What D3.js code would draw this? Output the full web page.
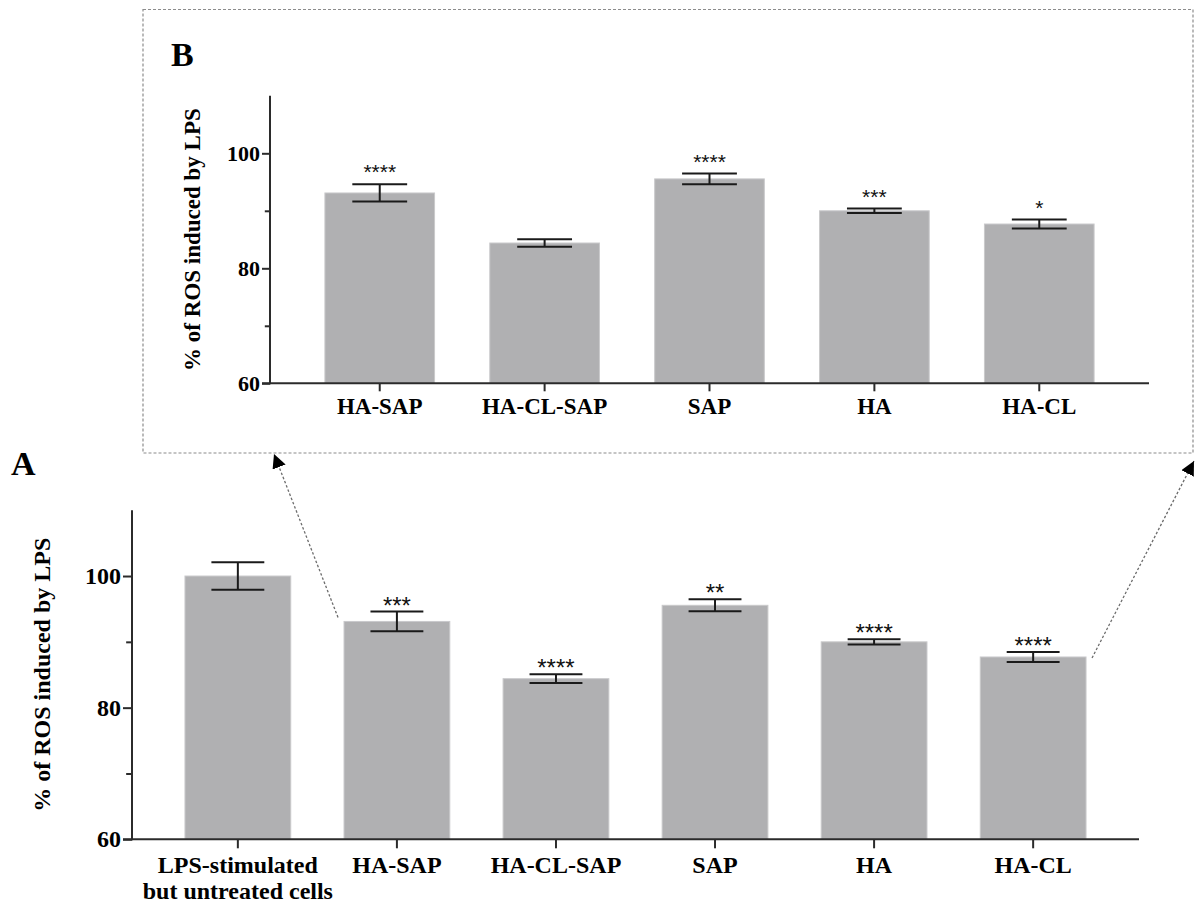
<!DOCTYPE html>
<html>
<head>
<meta charset="utf-8">
<script src="https://cdn.jsdelivr.net/npm/d3@7"></script>
<style>
  html, body { margin: 0; padding: 0; background: #fff; }
  svg { display: block; }
</style>
</head>
<body>
<svg id="fig" width="1196" height="903"></svg>
<script>
// ROS levels relative to LPS-stimulated cells (mean ± SEM)
const categoriesA = ["LPS-stimulated\nbut untreated cells", "HA-SAP", "HA-CL-SAP", "SAP", "HA", "HA-CL"];
const meansA  = [100, 93.1, 84.4, 95.55, 90.0, 87.7];
const errorsA = [2.1, 1.5, 0.67, 0.92, 0.4, 0.77];
const starsA  = ["", "***", "****", "**", "****", "****"];

const categoriesB = ["HA-SAP", "HA-CL-SAP", "SAP", "HA", "HA-CL"];
const meansB  = [93.1, 84.4, 95.55, 90.0, 87.7];
const errorsB = [1.5, 0.67, 0.92, 0.4, 0.77];
const starsB  = ["****", "", "****", "***", "*"];

const yDomain    = [60, 110];
const yMajorTicks = [60, 80, 100];
const yMinorTicks = [70, 90];
const yTitle = "% of ROS induced by LPS";

const svg = d3.select("#fig");
const serif = "'Liberation Serif', 'Times New Roman', serif";
const sans  = "'Liberation Sans', Arial, sans-serif";
const barFill = "#b0b0b2";
const axisColor = "#2b2b2b";

function drawPanel(opt) {
  const g = svg.append("g");
  const data = opt.cats.map((c, i) => ({ cat: c, mean: opt.means[i], err: opt.errs[i], star: opt.stars[i] }));

  const x = d3.scaleBand().domain(opt.cats).range([opt.x0, opt.x1])
    .paddingInner(0.335).paddingOuter(0.333);
  const y = d3.scaleLinear().domain(yDomain).range([opt.y0, opt.y1]);

  // bars
  g.selectAll("rect.bar").data(data).join("rect")
    .attr("class", "bar")
    .attr("x", d => x(d.cat))
    .attr("y", d => y(d.mean))
    .attr("width", x.bandwidth())
    .attr("height", d => y(yDomain[0]) - y(d.mean))
    .attr("fill", barFill)
    .attr("stroke", "#c9c9cb")
    .attr("stroke-width", 1);

  // error bars
  const capHalf = x.bandwidth() * 0.25;
  const eb = g.selectAll("g.err").data(data).join("g").attr("class", "err")
    .attr("stroke", "#1a1a1a").attr("stroke-width", 2);
  eb.append("line")
    .attr("x1", d => x(d.cat) + x.bandwidth() / 2).attr("x2", d => x(d.cat) + x.bandwidth() / 2)
    .attr("y1", d => y(d.mean + d.err)).attr("y2", d => y(d.mean - d.err));
  eb.append("line")
    .attr("x1", d => x(d.cat) + x.bandwidth() / 2 - capHalf).attr("x2", d => x(d.cat) + x.bandwidth() / 2 + capHalf)
    .attr("y1", d => y(d.mean + d.err)).attr("y2", d => y(d.mean + d.err));
  eb.append("line")
    .attr("x1", d => x(d.cat) + x.bandwidth() / 2 - capHalf).attr("x2", d => x(d.cat) + x.bandwidth() / 2 + capHalf)
    .attr("y1", d => y(d.mean - d.err)).attr("y2", d => y(d.mean - d.err));

  // significance marks
  g.selectAll("text.star").data(data).join("text")
    .attr("class", "star")
    .attr("x", d => x(d.cat) + x.bandwidth() / 2)
    .attr("y", d => y(d.mean + d.err) + opt.starShift)
    .attr("text-anchor", "middle")
    .attr("font-family", sans)
    .attr("font-size", opt.starSize)
    .attr("fill", "#111")
    .text(d => d.star);

  // y axis
  const yAxis = d3.axisLeft(y).tickValues(yMajorTicks).tickSize(opt.tick).tickPadding(2).tickFormat(d3.format("d"));
  const ya = g.append("g").attr("transform", `translate(${opt.x0},0)`).call(yAxis);
  ya.select(".domain").attr("stroke", axisColor).attr("stroke-width", 2)
    .attr("d", `M${-opt.tick},${opt.y0}H0V${opt.y1}`);
  ya.selectAll(".tick line").attr("stroke", axisColor).attr("stroke-width", 2);
  ya.selectAll(".tick text").attr("font-family", serif).attr("font-weight", "bold")
    .attr("font-size", opt.tickFont).attr("fill", "#000");
  const yMinor = d3.axisLeft(y).tickValues(yMinorTicks).tickSize(opt.tick * 0.65).tickFormat("");
  const ym = g.append("g").attr("transform", `translate(${opt.x0},0)`).call(yMinor);
  ym.select(".domain").remove();
  ym.selectAll(".tick line").attr("stroke", axisColor).attr("stroke-width", 2);

  // x axis
  const xAxis = d3.axisBottom(x).tickSize(opt.tick).tickFormat("");
  const xa = g.append("g").attr("transform", `translate(0,${opt.y0})`).call(xAxis);
  xa.select(".domain").attr("stroke", axisColor).attr("stroke-width", 2)
    .attr("d", `M${opt.x0},0H${opt.x1}`);
  xa.selectAll(".tick line").attr("stroke", axisColor).attr("stroke-width", 2);

  // category labels (may span two lines)
  const lab = g.selectAll("text.cat").data(data).join("text")
    .attr("class", "cat")
    .attr("text-anchor", "middle")
    .attr("font-family", serif).attr("font-weight", "bold")
    .attr("font-size", opt.labFont).attr("fill", "#000");
  lab.each(function (d) {
    const t = d3.select(this);
    d.cat.split("\n").forEach((line, k) => {
      t.append("tspan")
        .attr("x", x(d.cat) + x.bandwidth() / 2)
        .attr("y", opt.y0 + opt.labOffset + k * opt.labFont * 1.08)
        .text(line);
    });
  });

  // y title
  g.append("text")
    .attr("transform", `translate(${opt.titleX},${(opt.y0 + opt.y1) / 2}) rotate(-90)`)
    .attr("text-anchor", "middle")
    .attr("font-family", serif).attr("font-weight", "bold")
    .attr("font-size", opt.titleFont).attr("fill", "#000")
    .text(yTitle);

  // panel letter
  g.append("text")
    .attr("x", opt.letterX).attr("y", opt.letterY)
    .attr("font-family", serif).attr("font-weight", "bold")
    .attr("font-size", 34).attr("fill", "#000")
    .text(opt.letter);

  return { x, y };
}

// inset frame around panel B
const frame = { left: 143, top: 9.5, right: 1193, bottom: 453 };
svg.append("rect")
  .attr("x", frame.left).attr("y", frame.top)
  .attr("width", frame.right - frame.left).attr("height", frame.bottom - frame.top)
  .attr("fill", "none").attr("stroke", "#8c8c8c").attr("stroke-width", 1.2)
  .attr("stroke-dasharray", "3,2");

const panelB = drawPanel({
  cats: categoriesB, means: meansB, errs: errorsB, stars: starsB,
  x0: 270, x1: 1149, y0: 383.3, y1: 95.8,
  tick: 8, tickFont: 22, labFont: 23, labOffset: 31, titleFont: 23, titleX: 200,
  starSize: 21, starShift: -5, letter: "B", letterX: 171, letterY: 66
});

const panelA = drawPanel({
  cats: categoriesA, means: meansA, errs: errorsA, stars: starsA,
  x0: 132, x1: 1139, y0: 839.3, y1: 510.2,
  tick: 9, tickFont: 24, labFont: 24, labOffset: 34, titleFont: 24, titleX: 50,
  starSize: 24, starShift: 2, letter: "A", letterX: 11, letterY: 475
});

// dotted zoom arrows from panel A to the inset
const defs = svg.append("defs");
defs.append("marker")
  .attr("id", "tri").attr("viewBox", "0 0 10 10")
  .attr("refX", 10).attr("refY", 5)
  .attr("markerWidth", 14).attr("markerHeight", 14)
  .attr("markerUnits", "userSpaceOnUse")
  .attr("orient", "auto")
  .append("path").attr("d", "M0,0L10,5L0,10Z").attr("fill", "#000");

const xA = panelA.x, yA = panelA.y;
const iL = categoriesA.indexOf("HA-SAP");
const iR = categoriesA.indexOf("HA-CL");
const arrows = [
  { from: [xA(categoriesA[iL]) - 6, yA(meansA[iL]) - 4], to: [274, frame.bottom + 1] },
  { from: [xA(categoriesA[iR]) + xA.bandwidth() + 6, yA(meansA[iR]) + 1], to: [1194, frame.bottom + 8] }
];
svg.selectAll("line.zoom").data(arrows).join("line")
  .attr("class", "zoom")
  .attr("x1", d => d.from[0]).attr("y1", d => d.from[1])
  .attr("x2", d => d.to[0]).attr("y2", d => d.to[1])
  .attr("stroke", "#6d6d6d").attr("stroke-width", 1.3)
  .attr("stroke-dasharray", "2.5,2")
  .attr("marker-end", "url(#tri)");
</script>
</body>
</html>
